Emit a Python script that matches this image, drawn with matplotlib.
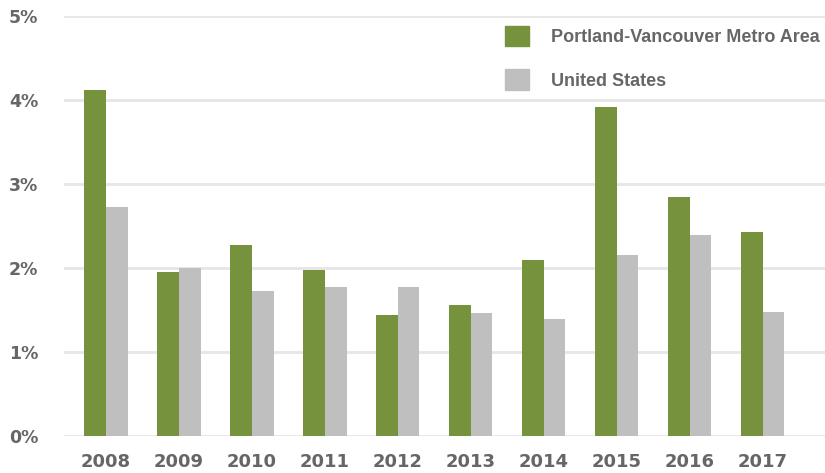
import numpy as np
import matplotlib
matplotlib.use('Agg')
import matplotlib.pyplot as plt
from matplotlib.patches import Patch

years = ['2008', '2009', '2010', '2011', '2012', '2013', '2014', '2015', '2016', '2017']
portland = [4.12, 1.95, 2.27, 1.98, 1.44, 1.56, 2.10, 3.92, 2.85, 2.43]
us = [2.73, 2.00, 1.73, 1.77, 1.77, 1.46, 1.39, 2.15, 2.39, 1.48]

green = '#76923c'
grey = '#bfbfbf'
txt = '#666666'

plt.rcParams['font.family'] = ['Liberation Sans', 'DejaVu Sans']

fig = plt.figure(figsize=(8.25, 4.73), dpi=100)
ax = fig.add_axes([64/825, 1-436/473, 1-64/825, 420/473])

x = np.arange(len(years))
w = 0.295
ax.bar(x - w/2, portland, w, color=green, zorder=3)
ax.bar(x + w/2, us, w, color=grey, zorder=3)

ax.set_ylim(0, 5)
ax.set_xlim(-0.575, 9.85)
ax.set_yticks(range(6))
ax.set_yticklabels([f'{i}%' for i in range(6)])
ax.set_xticks(x)
ax.set_xticklabels(years)
ax.yaxis.grid(True, color='#e6e6e6', linewidth=2, zorder=0)
for s in ax.spines.values():
    s.set_visible(False)
ax.tick_params(length=0, labelcolor=txt)
ax.tick_params(axis='y', pad=18.5)
ax.tick_params(axis='x', pad=12)
for t in ax.get_xticklabels() + ax.get_yticklabels():
    t.set_fontfamily('DejaVu Sans')
    t.set_fontweight('bold')
    t.set_fontsize(13)
for t in ax.get_yticklabels():
    t.set_fontsize(12.5)

handles = [Patch(color=green), Patch(color=grey)]
leg = ax.legend(handles, ['Portland-Vancouver Metro Area', 'United States'],
                loc='upper left', bbox_to_anchor=(425/761, 1.015), frameon=False,
                handlelength=1.33, handleheight=1.33, handletextpad=1.22,
                labelspacing=1.3, prop={'size': 13, 'weight': 'bold', 'family': 'Liberation Sans'})
for t in leg.get_texts():
    t.set_color(txt)

fig.savefig('out.png', dpi=100)
